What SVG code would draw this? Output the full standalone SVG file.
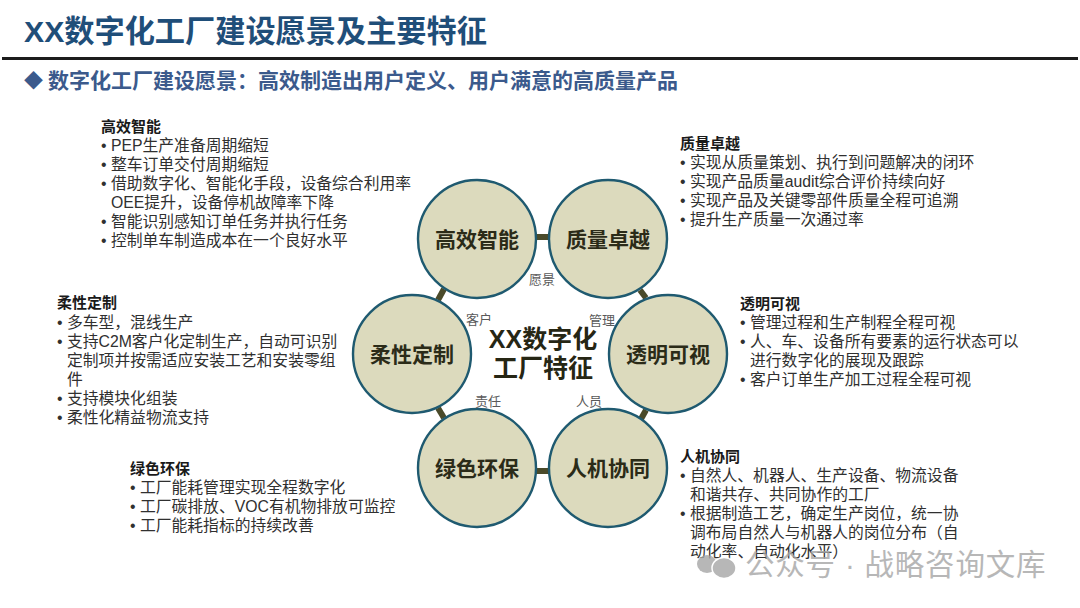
<svg xmlns="http://www.w3.org/2000/svg" width="1080" height="608" viewBox="0 0 1080 608">
<style>
text{font-family:"Liberation Sans","Noto Sans CJK SC",sans-serif;}
.b{font-size:15.8px;fill:#303030;}
.h{font-size:15px;fill:#1a1a1a;font-weight:bold;}
.n{font-size:21px;font-weight:bold;fill:#2b2b18;text-anchor:middle;}
.c{fill:#dcdabd;stroke:#1f5a70;stroke-width:2.4;}
.l{stroke:#4a4a2a;stroke-width:6;}
.s{font-size:13px;fill:#595959;text-anchor:middle;}
.m{font-size:25px;font-weight:bold;fill:#262614;text-anchor:middle;}
</style>
<rect width="1080" height="608" fill="#fff"/>
<text x="24" y="42" font-size="30.2" font-weight="bold" fill="#1f4e79">XX数字化工厂建设愿景及主要特征</text>
<rect x="2" y="57" width="1076" height="3" fill="#1c1c1c"/>
<text x="24" y="88" font-size="19" font-weight="bold" fill="#3b5a8c">◆</text>
<text x="48" y="88" font-size="21" font-weight="bold" fill="#3b5a8c">数字化工厂建设愿景：高效制造出用户定义、用户满意的高质量产品</text>
<g id="connectors">
<line class="l" x1="536" y1="237" x2="549" y2="237"/>
<line class="l" x1="640" y1="290" x2="646" y2="298"/>
<line class="l" x1="646" y1="410" x2="641" y2="419"/>
<line class="l" x1="536" y1="471" x2="549" y2="471"/>
<line class="l" x1="438" y1="408" x2="444" y2="418"/>
<line class="l" x1="438" y1="300" x2="444" y2="289"/>
</g>
<g id="n1"><circle class="c" cx="477" cy="239" r="59"/><text class="n" x="477" y="247">高效智能</text></g>
<g id="n2"><circle class="c" cx="608" cy="239" r="59"/><text class="n" x="608" y="247">质量卓越</text></g>
<g id="n3"><circle class="c" cx="668" cy="354" r="59"/><text class="n" x="668" y="362">透明可视</text></g>
<g id="n4"><circle class="c" cx="608" cy="468" r="59"/><text class="n" x="608" y="476">人机协同</text></g>
<g id="n5"><circle class="c" cx="477" cy="468" r="59"/><text class="n" x="477" y="476">绿色环保</text></g>
<g id="n6"><circle class="c" cx="412" cy="354" r="59"/><text class="n" x="412" y="362">柔性定制</text></g>
<g id="center"><text class="m" x="543" y="348">XX数字化</text><text class="m" x="543" y="377">工厂特征</text></g>
<text class="s" x="542" y="284">愿景</text>
<text class="s" x="602" y="325">管理</text>
<text class="s" x="479" y="324">客户</text>
<text class="s" x="488" y="406">责任</text>
<text class="s" x="589" y="406">人员</text>
<g id="t1">
<text class="h" x="101" y="132">高效智能</text>
<text class="b" x="101" y="151">• PEP生产准备周期缩短</text>
<text class="b" x="101" y="170">• 整车订单交付周期缩短</text>
<text class="b" x="101" y="189">• 借助数字化、智能化手段，设备综合利用率</text>
<text class="b" x="111" y="208">OEE提升，设备停机故障率下降</text>
<text class="b" x="101" y="227">• 智能识别感知订单任务并执行任务</text>
<text class="b" x="101" y="246">• 控制单车制造成本在一个良好水平</text>
</g>
<g id="t2">
<text class="h" x="680" y="149">质量卓越</text>
<text class="b" x="680" y="168">• 实现从质量策划、执行到问题解决的闭环</text>
<text class="b" x="680" y="187">• 实现产品质量audit综合评价持续向好</text>
<text class="b" x="680" y="206">• 实现产品及关键零部件质量全程可追溯</text>
<text class="b" x="680" y="225">• 提升生产质量一次通过率</text>
</g>
<g id="t3">
<text class="h" x="740" y="309">透明可视</text>
<text class="b" x="740" y="328">• 管理过程和生产制程全程可视</text>
<text class="b" x="740" y="347">• 人、车、设备所有要素的运行状态可以</text>
<text class="b" x="750" y="366">进行数字化的展现及跟踪</text>
<text class="b" x="740" y="385">• 客户订单生产加工过程全程可视</text>
</g>
<g id="t4">
<text class="h" x="680" y="462">人机协同</text>
<text class="b" x="680" y="481">• 自然人、机器人、生产设备、物流设备</text>
<text class="b" x="690" y="500">和谐共存、共同协作的工厂</text>
<text class="b" x="680" y="519">• 根据制造工艺，确定生产岗位，统一协</text>
<text class="b" x="690" y="538">调布局自然人与机器人的岗位分布（自</text>
<text class="b" x="690" y="557">动化率、自动化水平）</text>
</g>
<g id="t5">
<text class="h" x="130" y="474">绿色环保</text>
<text class="b" x="130" y="493">• 工厂能耗管理实现全程数字化</text>
<text class="b" x="130" y="512">• 工厂碳排放、VOC有机物排放可监控</text>
<text class="b" x="130" y="531">• 工厂能耗指标的持续改善</text>
</g>
<g id="t6">
<text class="h" x="57" y="308">柔性定制</text>
<text class="b" x="57" y="328">• 多车型，混线生产</text>
<text class="b" x="57" y="347">• 支持C2M客户化定制生产，自动可识别</text>
<text class="b" x="67" y="366">定制项并按需适应安装工艺和安装零组</text>
<text class="b" x="67" y="385">件</text>
<text class="b" x="57" y="404">• 支持模块化组装</text>
<text class="b" x="57" y="423">• 柔性化精益物流支持</text>
</g>
<g id="watermark" opacity="0.8">
<ellipse cx="707" cy="564" rx="10" ry="9" fill="#a6a6a6"/>
<ellipse cx="724" cy="568" rx="12" ry="10.5" fill="#a6a6a6" stroke="#fff" stroke-width="1.5"/>
<text x="745" y="575" font-size="29.5" letter-spacing="0.8" fill="#a6a6a6">公众号 · 战略咨询文库</text>
</g>
</svg>
